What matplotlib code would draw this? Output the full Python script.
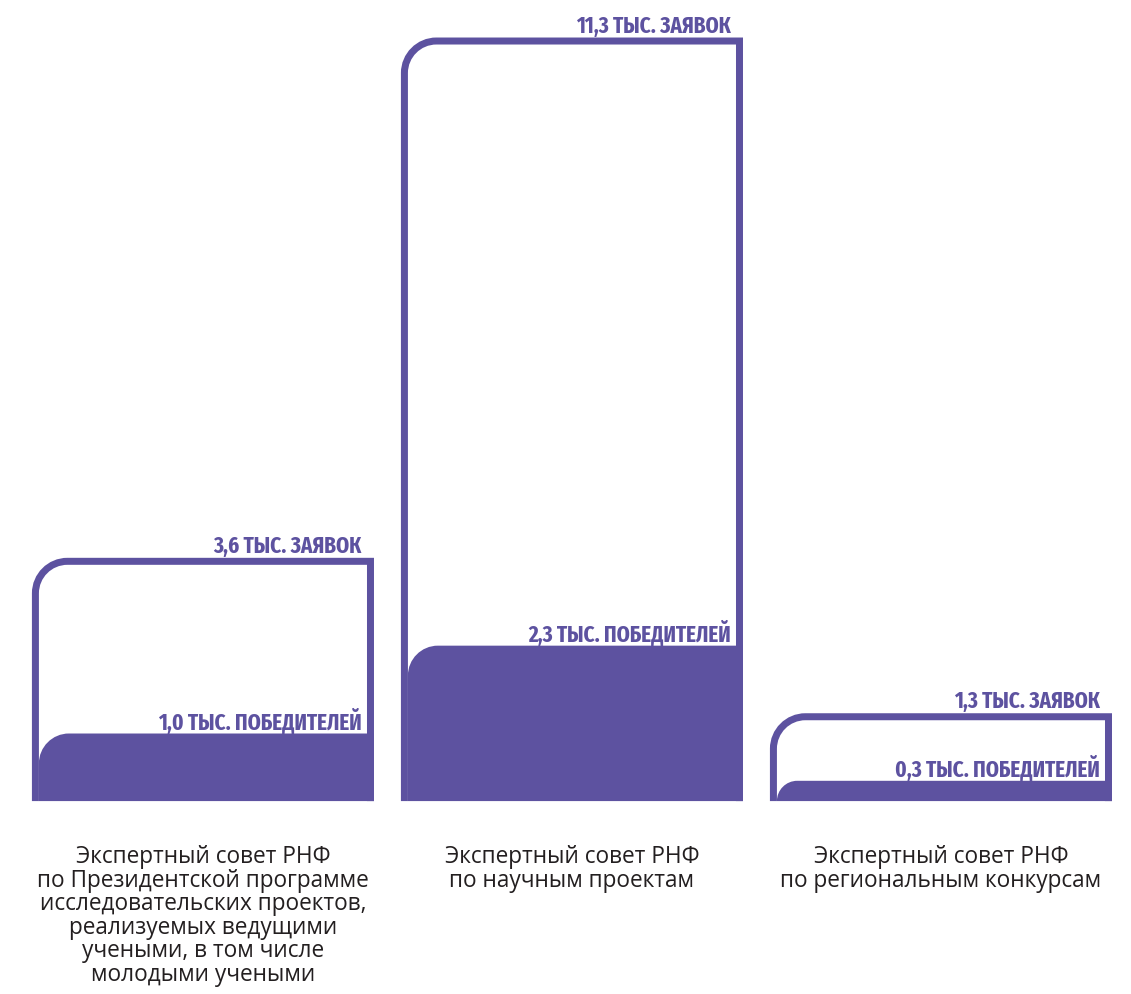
"""Applications vs winners per RSF expert council: outlined bars with filled winners."""
import matplotlib
matplotlib.use("Agg")
import matplotlib.pyplot as plt
from matplotlib.path import Path
from matplotlib.patches import PathPatch

COUNCILS = [
    "Экспертный совет РНФ\nпо Президентской программе\nисследовательских проектов,\n"
    "реализуемых ведущими\nучеными, в том числе\nмолодыми учеными",
    "Экспертный совет РНФ\nпо научным проектам",
    "Экспертный совет РНФ\nпо региональным конкурсам",
]
APPLICATIONS = [3.6, 11.3, 1.3]   # тыс. заявок
WINNERS = [1.0, 2.3, 0.3]         # тыс. победителей
APP_LABELS = ["3,6 ТЫС. ЗАЯВОК", "11,3 ТЫС. ЗАЯВОК", "1,3 ТЫС. ЗАЯВОК"]
WIN_LABELS = ["1,0 ТЫС. ПОБЕДИТЕЛЕЙ", "2,3 ТЫС. ПОБЕДИТЕЛЕЙ", "0,3 ТЫС. ПОБЕДИТЕЛЕЙ"]

PURPLE = "#5d52a0"
TEXT = "#231f20"
BAR_W = 0.927
LW_PX = 7.0          # outline stroke, pixels
R_OUT = 32.0         # corner radius of outline (stroke centre), pixels
R_FILL = 30.0        # corner radius of winners fill, pixels
K = 0.5523           # bezier quarter-circle constant
LABEL_FONT = ["Fira Sans Extra Condensed", "Roboto Condensed", "DejaVu Sans"]

DPI = 100
fig = plt.figure(figsize=(11.31, 9.95), dpi=DPI)
ax = fig.add_axes([0, 0, 1, 1])
ax.set_xlim(-0.550, 2.515)
ax.set_ylim(-2.855, 11.87)
ax.axis("off")

# pixel -> data scale factors
W_PX = fig.get_figwidth() * DPI
H_PX = fig.get_figheight() * DPI
sx = (ax.get_xlim()[1] - ax.get_xlim()[0]) / W_PX
sy = (ax.get_ylim()[1] - ax.get_ylim()[0]) / H_PX


def top_left_round(x0, x1, y0, top, r):
    """Path up the left side, rounded top-left corner, across, down."""
    r = min(r, (top - y0) / sy)
    rx, ry = r * sx, r * sy
    verts = [
        (x0, y0),
        (x0, top - ry),
        (x0, top - ry + K * ry), (x0 + rx - K * rx, top), (x0 + rx, top),
        (x1, top),
        (x1, y0),
    ]
    codes = [Path.MOVETO, Path.LINETO,
             Path.CURVE4, Path.CURVE4, Path.CURVE4,
             Path.LINETO, Path.LINETO]
    return verts, codes


for i, (app, win) in enumerate(zip(APPLICATIONS, WINNERS)):
    x0 = i - BAR_W / 2
    x1 = i + BAR_W / 2
    hx, hy = LW_PX / 2 * sx, LW_PX / 2 * sy

    # winners: filled shape, left edge tucked under the outline stroke
    v, c = top_left_round(x0 + LW_PX * sx, x1, 0, win, R_FILL)
    v = v + [(x0, 0), (x0 + LW_PX * sx, 0)]
    c = c + [Path.LINETO, Path.CLOSEPOLY]
    ax.add_patch(PathPatch(Path(v, c), facecolor=PURPLE, edgecolor="none"))

    # applications: outline, stroke kept inside the value height
    v, c = top_left_round(x0 + hx, x1 - hx, 0, app - hy, R_OUT)
    ax.add_patch(PathPatch(Path(v, c), facecolor="none", edgecolor=PURPLE,
                           linewidth=LW_PX * 72 / DPI, capstyle="butt", joinstyle="miter"))

    ax.annotate(APP_LABELS[i], (x1, app), xytext=(-12, 1), textcoords="offset pixels",
                ha="right", va="bottom", color=PURPLE, fontsize=16.5, fontweight="bold",
                family=LABEL_FONT)
    ax.annotate(WIN_LABELS[i], (x1, win), xytext=(-12, 0), textcoords="offset pixels",
                ha="right", va="bottom", color=PURPLE, fontsize=16.5, fontweight="bold",
                family=LABEL_FONT)

    ax.annotate(COUNCILS[i], (i, 0), xytext=(0, -43), textcoords="offset pixels",
                ha="center", va="top", color=TEXT, fontsize=16.3, family="Open Sans",
                linespacing=0.975, annotation_clip=False)

fig.savefig("out.png", dpi=DPI, facecolor="white")
